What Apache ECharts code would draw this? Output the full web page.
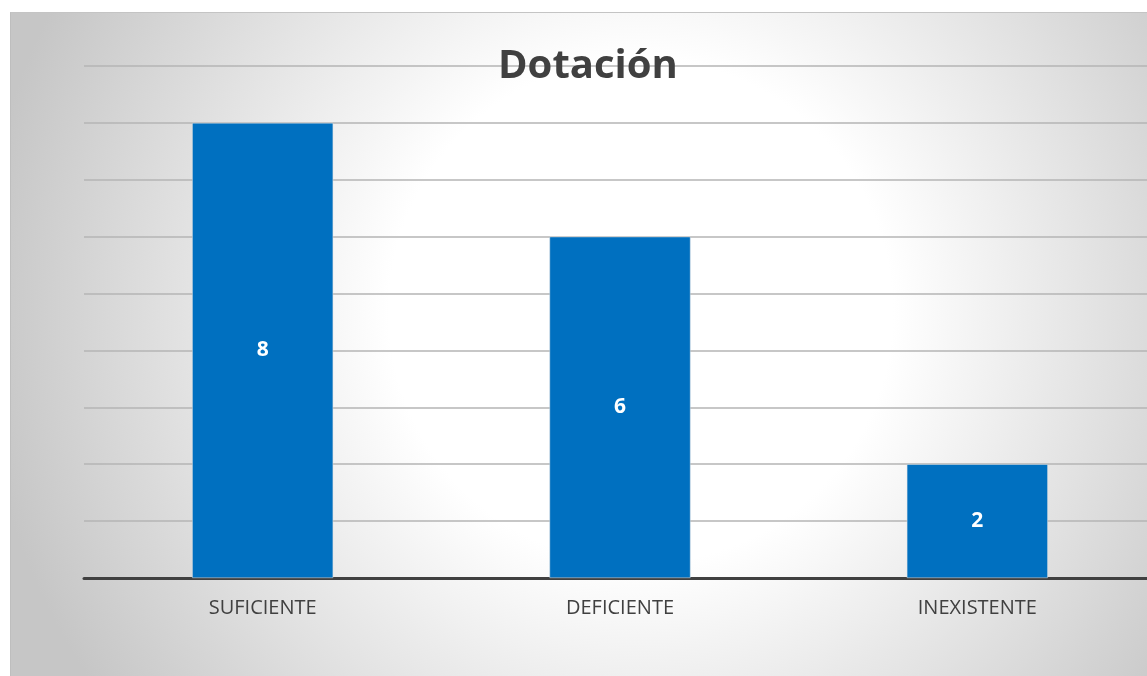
<!DOCTYPE html>
<html>
<head>
<meta charset="utf-8">
<script src="https://cdn.jsdelivr.net/npm/echarts@6/dist/echarts.min.js"></script>
<style>
  html, body { margin: 0; padding: 0; background: #fff; overflow: hidden; }
  #chart { position: absolute; left: 10px; top: 12px; width: 1146px; height: 664px;
           border-top: 1px solid #c4c4c4; border-left: 1px solid #bebebe; box-sizing: border-box; }
</style>
</head>
<body>
<div id="chart"></div>
<script>
const categories = ['SUFICIENTE', 'DEFICIENTE', 'INEXISTENTE']
const values = [8, 6, 2]
const yMax = 9

const chart = echarts.init(document.getElementById('chart'), null, { renderer: 'canvas' })

const option = {
  backgroundColor: new echarts.graphic.RadialGradient(0.55, 0.45, 1.0, [
    { offset: 0, color: '#ffffff' },
    { offset: 0.38, color: '#ffffff' },
    { offset: 1, color: '#c6c6c6' }
  ]),
  title: {
    text: 'Dotación',
    left: 482,
    top: 29,
    textStyle: { color: '#404040', fontSize: 40, fontWeight: 'bold', fontFamily: 'Open Sans' }
  },
  grid: { left: 73, right: 0, top: 53, bottom: 98 },
  xAxis: {
    type: 'category',
    data: categories,
    axisLine: { lineStyle: { color: '#404040', width: 3 } },
    axisTick: { show: false },
    axisLabel: { color: '#404040', fontSize: 20, fontFamily: 'Open Sans', margin: 20 }
  },
  yAxis: {
    type: 'value',
    min: 0,
    max: yMax,
    interval: 1,
    axisLine: { show: false },
    axisTick: { show: false },
    axisLabel: { show: false },
    splitLine: { lineStyle: { color: '#b4b4b4', width: 1.5 } }
  },
  series: [
    {
      type: 'bar',
      data: values,
      barWidth: 141,
      itemStyle: { color: '#0070c0', borderColor: '#e0e0e0', borderWidth: 0.5 },
      label: {
        show: true,
        position: 'inside',
        color: '#ffffff',
        fontSize: 21,
        fontWeight: 'bold',
        fontFamily: 'Open Sans'
      }
    }
  ]
}

chart.setOption(option)
</script>
</body>
</html>
